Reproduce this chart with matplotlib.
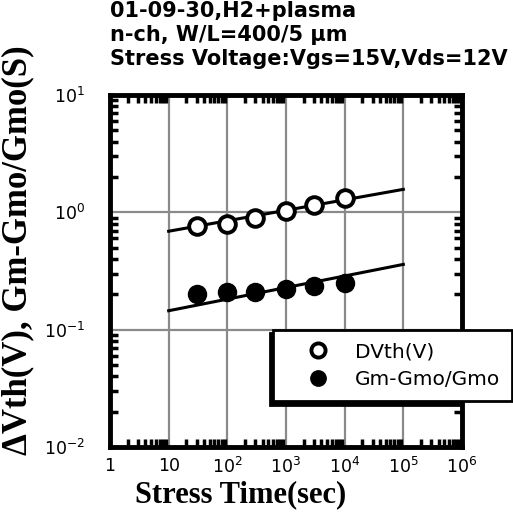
import numpy as np
import matplotlib
matplotlib.use('Agg')
from matplotlib import pyplot
from matplotlib.patches import Shadow
from matplotlib.ticker import LogLocator, FixedLocator, NullFormatter

# stress time (sec) and measured values
stress_time = [30, 100, 300, 1000, 3000, 10000]
dvth = [0.76, 0.80, 0.90, 1.02, 1.15, 1.32]
gm_ratio = [0.20, 0.21, 0.21, 0.22, 0.235, 0.25]

# fitted power-law lines (end points)
fit_time = [10, 1e5]
fit_dvth = [0.69, 1.57]
fit_gm = [0.145, 0.36]

x_ticks = [1, 10, 1e2, 1e3, 1e4, 1e5, 1e6]
x_labels = ['1', '10', r'$\mathregular{10^2}$', r'$\mathregular{10^3}$',
            r'$\mathregular{10^4}$', r'$\mathregular{10^5}$', r'$\mathregular{10^6}$']
y_ticks = [1e-2, 1e-1, 1, 10]
y_labels = [r'$\mathregular{10^{-2}}$', r'$\mathregular{10^{-1}}$',
            r'$\mathregular{10^0}$', r'$\mathregular{10^1}$']

title_lines = ['01-09-30,H2+plasma', 'n-ch, W/L=400/5 \u03bcm',
               'Stress Voltage:Vgs=15V,Vds=12V']

pyplot.rcParams['font.family'] = ['DejaVu Sans']

W, H = 513, 526
fig = pyplot.figure(figsize=(W/100, H/100), dpi=100)
ax = fig.add_axes([110/W, 1-447/H, 352/W, 352/H])

ax.set_xscale('log')
ax.set_yscale('log')
ax.set_xlim(1, 1e6)
ax.set_ylim(1e-2, 10)

ax.grid(True, which='major', color='#8a8a8a', linewidth=1.6)
ax.set_axisbelow(True)

ax.plot(fit_time, fit_dvth, color='k', linewidth=2.2, zorder=3)
ax.plot(fit_time, fit_gm, color='k', linewidth=2.2, zorder=3)
ax.plot(stress_time, dvth, 'o', markersize=12, markerfacecolor='white',
        markeredgecolor='k', markeredgewidth=2.8, label='DVth(V)', zorder=4)
ax.plot(stress_time, gm_ratio, 'o', markersize=13, color='k',
        label='Gm-Gmo/Gmo', zorder=4)

ax.xaxis.set_major_locator(FixedLocator(x_ticks))
ax.set_xticklabels(x_labels)
ax.yaxis.set_major_locator(FixedLocator(y_ticks))
ax.set_yticklabels(y_labels)
ax.xaxis.set_minor_locator(LogLocator(base=10, subs=np.arange(2, 10), numticks=20))
ax.yaxis.set_minor_locator(LogLocator(base=10, subs=np.arange(2, 10), numticks=20))
ax.xaxis.set_minor_formatter(NullFormatter())
ax.yaxis.set_minor_formatter(NullFormatter())
ax.tick_params(which='both', direction='in', top=True, right=True, width=2.5)
ax.tick_params(which='major', length=0, labelsize=12.5)
ax.tick_params(axis='x', which='major', pad=7)
ax.tick_params(axis='y', which='major', pad=18)
ax.tick_params(which='minor', length=6)
for s in ax.spines.values():
    s.set_linewidth(3.5)

ax.set_xlabel('Stress Time(sec)', family='Liberation Serif', fontweight='bold',
              fontsize=22)
ax.xaxis.set_label_coords(0.37, -0.093)
ax.set_ylabel('\u0394Vth(V), Gm-Gmo/Gmo(S)', family='Liberation Serif',
              fontweight='bold', fontsize=25)
ax.yaxis.set_label_coords(-0.215, 0.56)

fig.text(110/W, 1-1/H, '\n'.join(title_lines), ha='left', va='top',
         fontsize=15, fontweight='bold', linespacing=1.25)

leg = ax.legend(loc='upper left', bbox_to_anchor=(163/352, 117/352), frameon=True,
                fancybox=False, fontsize=14.5, borderpad=0.6, framealpha=1,
                handlelength=3.3, handletextpad=0.15, labelspacing=0.45,
                markerscale=0.85, borderaxespad=0)
leg.get_frame().set_edgecolor('k')
leg.get_frame().set_facecolor('white')
leg.get_frame().set_linewidth(2)
leg.set_zorder(10)

# lay out once so the legend frame has its final size, then put its shadow under it
fig.canvas.draw()
shadow = Shadow(leg.legendPatch, -2.5, -2.5, color='k', alpha=1, zorder=9)
ax.add_artist(shadow)

fig.savefig('out.png', dpi=100)
